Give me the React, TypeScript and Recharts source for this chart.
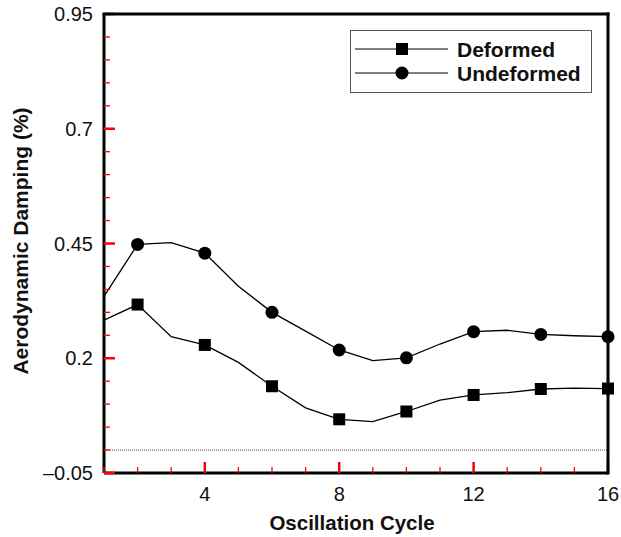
import { LineChart, Line, XAxis, YAxis, ReferenceLine } from 'recharts';

const cycles = [1, 2, 3, 4, 5, 6, 7, 8, 9, 10, 11, 12, 13, 14, 15, 16];
const deformed = [0.283, 0.317, 0.247, 0.229, 0.191, 0.139, 0.092, 0.067, 0.062, 0.084, 0.109, 0.12, 0.125, 0.133, 0.135, 0.134];
const undeformed = [0.335, 0.448, 0.452, 0.429, 0.357, 0.3, 0.259, 0.218, 0.195, 0.201, 0.231, 0.258, 0.261, 0.252, 0.249, 0.247];

const xTicks = [1, 2, 3, 4, 5, 6, 7, 8, 9, 10, 11, 12, 13, 14, 15, 16];
const xMajorTicks = [4, 8, 12, 16];
const yTicks = [-0.05, 0, 0.05, 0.1, 0.15, 0.2, 0.25, 0.3, 0.35, 0.4, 0.45, 0.5, 0.55, 0.6, 0.65, 0.7, 0.75, 0.8, 0.85, 0.9, 0.95];
const yMajorTicks = [-0.05, 0.2, 0.45, 0.7, 0.95];
const yTickLabels = ['\u20130.05', '0.2', '0.45', '0.7', '0.95'];
const seriesNames = ['Deformed', 'Undeformed'];

const data = cycles.map((c, i) => ({ cycle: c, deformed: deformed[i], undeformed: undeformed[i] }));

const FONT = '"Liberation Sans", Arial, Helvetica, sans-serif';
const frame = { stroke: '#000', strokeWidth: 3 };

const YTick = (props: any) => {
  const { x, y, payload } = props;
  const i = yMajorTicks.findIndex((v) => Math.abs(v - payload.value) < 1e-6);
  const major = i >= 0;
  return (
    <g>
      <path d={`M${x},${y}H${x + (major ? 11 : 6)}`} stroke="red" strokeWidth={major ? 2.5 : 1.3} fill="none" />
      {major && (
        <text x={x - 11} y={y + 7} textAnchor="end" fontSize={20} fontFamily={FONT} fill="#111">
          {yTickLabels[i]}
        </text>
      )}
    </g>
  );
};

const XTick = (props: any) => {
  const { x, y, payload } = props;
  const major = xMajorTicks.includes(payload.value);
  return (
    <g>
      <path d={`M${x},${y}V${y - (major ? 11 : 6)}`} stroke="red" strokeWidth={major ? 2.5 : 1.3} fill="none" />
      {major && (
        <text x={x} y={y + 28} textAnchor="middle" fontSize={20} fontFamily={FONT} fill="#111">
          {payload.value}
        </text>
      )}
    </g>
  );
};

const markerDot = (shape: 'square' | 'circle') => (props: any) => {
  const { cx, cy, payload, index } = props;
  if (payload.cycle % 2 !== 0) return <g key={`e-${shape}-${index}`} />;
  if (shape === 'square')
    return <rect key={`s-${index}`} x={cx - 6} y={cy - 6} width={12} height={12} fill="#000" />;
  return <circle key={`c-${index}`} cx={cx} cy={cy} r={6.5} fill="#000" />;
};

// titles, legend and top/right frame edges drawn on top of the chart
const Overlay = () => (
  <svg width={621} height={537} style={{ position: 'absolute', left: 0, top: 0, pointerEvents: 'none' }}>
    <line x1={102.5} x2={609.5} y1={14} y2={14} stroke="#000" strokeWidth={3} />
    <line x1={608} x2={608} y1={12.5} y2={474.5} stroke="#000" strokeWidth={3} />
    <text x={352} y={530} textAnchor="middle" fontSize={20.5} fontWeight="bold" fontFamily={FONT} fill="#111">
      Oscillation Cycle
    </text>
    <text
      x={28}
      y={241}
      transform="rotate(-90 28 241)"
      textAnchor="middle"
      fontSize={21}
      fontWeight="bold"
      fontFamily={FONT}
      fill="#111"
    >
      Aerodynamic Damping (%)
    </text>
    <g transform="translate(350 30)">
      <rect x={0.5} y={0.5} width={241} height={62} fill="#fff" stroke="#555" strokeWidth={1} />
      <line x1={5} x2={98} y1={19} y2={19} stroke="#000" strokeWidth={1.2} />
      <rect x={46} y={13} width={12} height={12} fill="#000" />
      <text x={107} y={26.5} fontSize={21} fontWeight="bold" fontFamily={FONT} fill="#111">{seriesNames[0]}</text>
      <line x1={5} x2={98} y1={43} y2={43} stroke="#000" strokeWidth={1.2} />
      <circle cx={52} cy={43} r={6.5} fill="#000" />
      <text x={107} y={50.5} fontSize={21} fontWeight="bold" fontFamily={FONT} fill="#111">{seriesNames[1]}</text>
    </g>
  </svg>
);

export default function App() {
  return (
    <div style={{ position: 'absolute', left: 0, top: 0, width: 621, height: 537, background: '#fff' }}>
      <LineChart width={621} height={537} data={data} margin={{ top: 14, right: 13, bottom: 0, left: 0 }}>
        <XAxis
          dataKey="cycle"
          type="number"
          domain={[1, 16]}
          ticks={xTicks}
          interval={0}
          height={64}
          axisLine={frame}
          tickLine={false}
          tickSize={0}
          tickMargin={0}
          tick={<XTick />}
        />
        <YAxis
          type="number"
          domain={[-0.05, 0.95]}
          ticks={yTicks}
          interval={0}
          width={104}
          axisLine={frame}
          tickLine={false}
          tickSize={0}
          tickMargin={0}
          allowDataOverflow
          tick={<YTick />}
        />
        <ReferenceLine y={0} stroke="#444" strokeWidth={1} strokeDasharray="1 1" />
        <Line
          type="linear"
          dataKey="deformed"
          name={seriesNames[0]}
          stroke="#000"
          strokeWidth={1.3}
          dot={markerDot('square')}
          activeDot={false}
          isAnimationActive={false}
        />
        <Line
          type="linear"
          dataKey="undeformed"
          name={seriesNames[1]}
          stroke="#000"
          strokeWidth={1.3}
          dot={markerDot('circle')}
          activeDot={false}
          isAnimationActive={false}
        />
      </LineChart>
      <Overlay />
    </div>
  );
}
